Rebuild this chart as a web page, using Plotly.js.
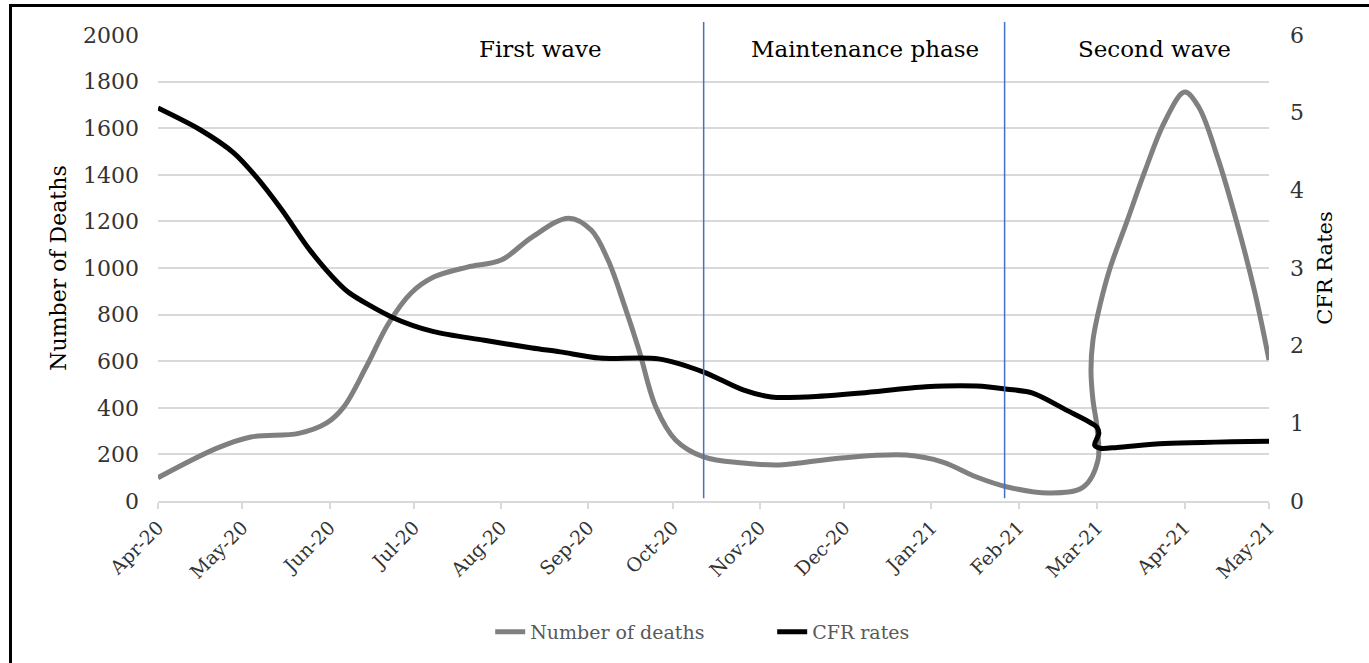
<!DOCTYPE html>
<html>
<head>
<meta charset="utf-8">
<script src="https://cdn.plot.ly/plotly-3.0.1.min.js"></script>
<style>
html,body{margin:0;padding:0;background:#fff;overflow:hidden;}
#chart{width:1369px;height:663px;}
#frame{position:absolute;left:9px;top:4px;width:1400px;height:700px;border-left:3px solid #000;border-top:3px solid #000;pointer-events:none;}
</style>
</head>
<body>
<div id="chart"></div>
<div id="frame"></div>
<script>
// Number of deaths (left axis)
const deathDates = [
  '2020-04-01','2020-04-22','2020-05-04','2020-05-21','2020-05-31','2020-06-06','2020-06-14',
  '2020-06-22','2020-06-30','2020-07-08','2020-07-20','2020-08-01','2020-08-12','2020-08-25',
  '2020-09-02','2020-09-08','2020-09-14','2020-09-19','2020-09-25','2020-10-02','2020-10-12',
  '2020-10-26','2020-11-08','2020-11-30','2020-12-23','2021-01-05','2021-01-17','2021-01-28',
  '2021-02-12','2021-02-24','2021-03-01 05:00','2021-02-28 20:00','2021-02-27 10:00',
  '2021-02-26 17:00','2021-02-27 10:00','2021-03-01 22:00','2021-03-05 12:00','2021-03-11 12:00',
  '2021-03-18','2021-03-25','2021-04-01','2021-04-06','2021-04-13','2021-04-20','2021-04-26','2021-05-01'
];
const deathValues = [
  100, 227, 275, 290, 335, 403, 575,
  763, 893, 961, 1004, 1034, 1133, 1214,
  1163, 1034, 833, 648, 403, 262, 189,
  163, 155, 185, 197, 167, 103, 60,
  34, 60, 176, 318, 433,
  562, 691, 841, 1000, 1200,
  1420, 1630, 1755, 1691, 1464, 1176, 893, 605
];

// CFR rates (right axis)
const cfrDates = [
  '2020-04-01','2020-04-16','2020-04-28','2020-05-06','2020-05-15','2020-05-25','2020-06-04',
  '2020-06-08','2020-06-23','2020-07-08','2020-07-26','2020-08-12','2020-08-22','2020-09-05',
  '2020-09-26','2020-10-12','2020-10-26','2020-11-05','2020-11-18','2020-12-07','2020-12-30',
  '2021-01-17','2021-01-28','2021-02-06','2021-02-18','2021-02-28 20:00','2021-03-01 12:00',
  '2021-02-28 00:00','2021-03-02 00:00','2021-03-08','2021-03-25','2021-05-01'
];
const cfrValues = [
  5.06, 4.78, 4.48, 4.17, 3.75, 3.23, 2.81,
  2.68, 2.37, 2.18, 2.07, 1.97, 1.92, 1.84,
  1.83, 1.66, 1.43, 1.34, 1.34, 1.39, 1.47,
  1.48, 1.44, 1.39, 1.17, 0.95, 0.87,
  0.72, 0.68, 0.69, 0.74, 0.77
];

const phaseBounds = ['2020-10-12', '2021-01-27'];
const phaseLabels = ['First wave', 'Maintenance phase', 'Second wave'];
const seriesNames = ['Number of deaths', 'CFR rates'];
const axisTitles = ['Number of Deaths', 'CFR Rates'];

const FONT = 'DejaVu Serif';
const labelPos = [0.344, 0.636, 0.8965];

const traces = [
  {x: deathDates, y: deathValues, name: seriesNames[0], type: 'scatter', mode: 'lines',
   line: {color: '#808080', width: 5, shape: 'spline', smoothing: 1.0}, yaxis: 'y'},
  {x: cfrDates, y: cfrValues, name: seriesNames[1], type: 'scatter', mode: 'lines',
   line: {color: '#000000', width: 5, shape: 'spline', smoothing: 0.8}, yaxis: 'y2'}
];

const layout = {
  width: 1369, height: 663,
  margin: {l: 158, r: 100, t: 35, b: 162},
  paper_bgcolor: '#ffffff', plot_bgcolor: '#ffffff',
  showlegend: true,
  legend: {orientation: 'h', x: 0.299, xanchor: 'left', y: -0.281, yanchor: 'middle',
           entrywidth: 237, entrywidthmode: 'pixels',
           font: {family: FONT, size: 19, color: '#595959'}, traceorder: 'normal'},
  xaxis: {
    type: 'date', range: ['2020-04-01', '2021-05-01'],
    tick0: '2020-04-01', dtick: 'M1', tickformat: '%b-%y', tickangle: -45,
    showgrid: false, zeroline: false,
    showline: true, linecolor: '#d9d9d9', linewidth: 2,
    ticks: 'outside', ticklen: 6, tickcolor: '#d9d9d9', tickwidth: 2,
    tickfont: {family: FONT, size: 19, color: '#333333'}
  },
  yaxis: {
    range: [0, 2000], dtick: 200, showgrid: true, gridcolor: '#d9d9d9', gridwidth: 2,
    zeroline: false, showline: false, ticks: '', ticklabelstandoff: 18,
    tickfont: {family: FONT, size: 22, color: '#333333'},
    title: {text: axisTitles[0], font: {family: FONT, size: 22, color: '#000000'}, standoff: 10}
  },
  yaxis2: {
    range: [0, 6], dtick: 1, overlaying: 'y', side: 'right', showgrid: false,
    zeroline: false, showline: false, ticks: '', ticklabelstandoff: 20,
    tickfont: {family: FONT, size: 22, color: '#333333'},
    title: {text: axisTitles[1], font: {family: FONT, size: 21, color: '#000000'}, standoff: 14}
  },
  shapes: phaseBounds.map(d => ({
    type: 'line', xref: 'x', yref: 'paper', x0: d, x1: d, y0: 0.006, y1: 1.028,
    line: {color: '#4472C4', width: 1.5}, layer: 'above'
  })),
  annotations: phaseLabels.map((t, i) => ({
    text: t, xref: 'paper', yref: 'paper', x: labelPos[i], y: 0.970,
    xanchor: 'center', yanchor: 'middle', showarrow: false,
    font: {family: FONT, size: 23, color: '#000000'}
  }))
};

Plotly.newPlot('chart', traces, layout, {displayModeBar: false, staticPlot: true});
</script>
</body>
</html>
